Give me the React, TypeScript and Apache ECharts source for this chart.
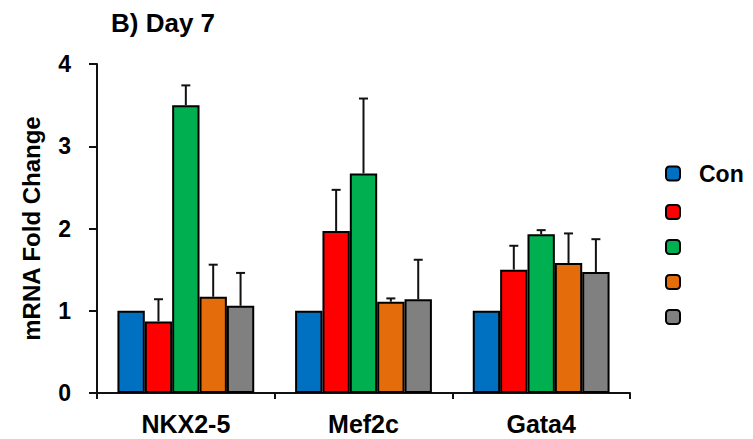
import React, { useEffect, useRef } from "react";
import * as echarts from "echarts";

const categories = ["NKX2-5", "Mef2c", "Gata4"];
const seriesNames = ["Con", "Group 2", "Group 3", "Group 4", "Group 5"];
const colors = ["#0070C0", "#FF0000", "#00B050", "#E46C0A", "#808080"];
const means = [
  [1.0, 1.0, 1.0],
  [0.87, 1.97, 1.5],
  [3.5, 2.67, 1.93],
  [1.17, 1.11, 1.58],
  [1.06, 1.14, 1.47],
];
const upperErr = [
  [1.0, 1.0, 1.0],
  [1.14, 2.47, 1.79],
  [3.74, 3.58, 1.98],
  [1.56, 1.15, 1.94],
  [1.46, 1.62, 1.87],
];
const yTicks = [0, 1, 2, 3, 4];

const FONT = "Liberation Sans, Arial, sans-serif";
const CAT_GAP = 0.23;

export default function App() {
  const ref = useRef<HTMLDivElement>(null);
  useEffect(() => {
    if (!ref.current) return;
    const chart = echarts.init(ref.current, null, { renderer: "svg" });
    const n = seriesNames.length;
    const barSeries = seriesNames.map((name, i) => ({
      name,
      type: "bar",
      data: means[i],
      barGap: "0%",
      barCategoryGap: CAT_GAP * 100 + "%",
      itemStyle: { color: colors[i], borderColor: "#000", borderWidth: 2 },
      z: 2,
    }));
    const errSeries = seriesNames.map((name, i) => ({
      name: name + " err",
      type: "custom",
      data: categories.map((_, j) => [j, means[i][j], upperErr[i][j]]),
      z: 3,
      renderItem: (params: any, api: any) => {
        const j = api.value(0);
        if (api.value(2) <= api.value(1)) return { type: "group", children: [] };
        const bandW = api.size([1, 0])[0];
        const barW = (bandW * (1 - CAT_GAP)) / n;
        const c = api.coord([j, api.value(1)]);
        const t = api.coord([j, api.value(2)]);
        const x = c[0] + (i - (n - 1) / 2) * barW;
        const style = { stroke: "#111", lineWidth: 2 };
        return {
          type: "group",
          children: [
            { type: "line", shape: { x1: x, y1: c[1], x2: x, y2: t[1] }, style },
            { type: "line", shape: { x1: x - 4.5, y1: t[1], x2: x + 4.5, y2: t[1] }, style },
          ],
        };
      },
    }));
    chart.setOption({
      animation: false,
      title: {
        text: "B) Day 7",
        left: 106,
        top: 5,
        textStyle: { fontFamily: FONT, fontSize: 26, fontWeight: "bold", color: "#000" },
      },
      legend: {
        data: seriesNames,
        orient: "vertical",
        left: 660,
        top: 157,
        itemWidth: 14,
        itemHeight: 14,
        itemGap: 19,
        icon: "roundRect",
        selectedMode: false,
        formatter: (name: string) => (name === seriesNames[0] ? name : ""),
        textStyle: {
          fontFamily: FONT,
          fontSize: 23,
          fontWeight: "bold",
          color: "#000",
          lineHeight: 14,
          padding: [0, 0, 0, 14],
        },
      },
      grid: { left: 97, right: 123, top: 64, bottom: 46, containLabel: false },
      xAxis: {
        type: "category",
        data: categories,
        axisLine: { lineStyle: { color: "#111", width: 2 } },
        axisTick: { show: true, length: 6, lineStyle: { color: "#111", width: 2 } },
        axisLabel: {
          margin: 18,
          fontFamily: FONT,
          fontSize: 25,
          fontWeight: "bold",
          color: "#000",
        },
      },
      yAxis: {
        type: "value",
        min: yTicks[0],
        max: yTicks[yTicks.length - 1],
        interval: 1,
        name: "mRNA Fold Change",
        nameLocation: "middle",
        nameGap: 54,
        nameTextStyle: { fontFamily: FONT, fontSize: 24, fontWeight: "bold", color: "#000" },
        splitLine: { show: false },
        axisLine: { show: true, lineStyle: { color: "#111", width: 2 } },
        axisTick: { show: true, length: 8, lineStyle: { color: "#111", width: 2 } },
        axisLabel: {
          margin: 26,
          fontFamily: FONT,
          fontSize: 23,
          fontWeight: "bold",
          color: "#000",
        },
      },
      series: [...barSeries, ...errSeries],
    });
    return () => chart.dispose();
  }, []);
  return (
    <div
      ref={ref}
      style={{ position: "fixed", left: 0, top: 0, width: 753, height: 439, overflow: "hidden", background: "#fff" }}
    />
  );
}
